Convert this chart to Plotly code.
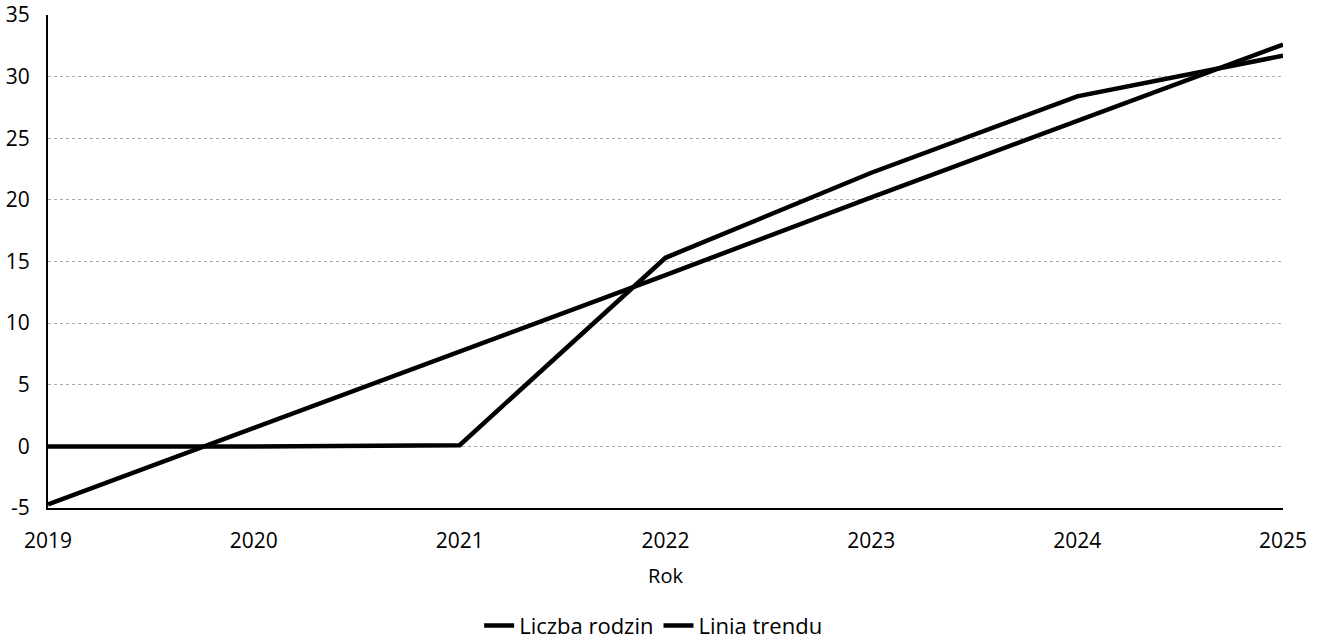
import plotly.graph_objects as go

years = [2019, 2020, 2021, 2022, 2023, 2024, 2025]
liczba_rodzin = [0, 0, 0.1, 15.3, 22.2, 28.4, 31.7]
linia_trendu = [-4.7, 1.5, 7.7, 13.9, 20.2, 26.4, 32.6]
y_ticks = [-5, 0, 5, 10, 15, 20, 25, 30, 35]

font = "Open Sans, Noto Sans, sans-serif"

fig = go.Figure()
fig.add_trace(go.Scatter(x=years, y=liczba_rodzin, mode="lines", name="Liczba rodzin",
                         line=dict(color="black", width=4.5)))
fig.add_trace(go.Scatter(x=years, y=linia_trendu, mode="lines", name="Linia trendu",
                         line=dict(color="black", width=4.5)))

fig.update_layout(
    width=1320, height=643,
    margin=dict(l=48, r=37, t=15, b=135, autoexpand=False),
    paper_bgcolor="white", plot_bgcolor="white",
    font=dict(family=font, color="black", size=21),
    showlegend=True,
    legend=dict(orientation="h", x=0.49, xanchor="center", y=-0.196, yanchor="top",
                font=dict(size=22), itemwidth=30, tracegroupgap=0),
)
fig.update_xaxes(
    range=[2019, 2025], tickvals=years, ticktext=[str(y) for y in years],
    showgrid=False, zeroline=False, showline=True, linecolor="black", linewidth=2,
    ticks="", ticklabelstandoff=13, automargin=False, ticklabeloverflow="allow",
    title=dict(text="Rok", font=dict(size=20), standoff=16),
)
fig.update_yaxes(
    range=[-5, 35], tickvals=y_ticks, ticktext=[str(v) for v in y_ticks],
    showgrid=True, gridcolor="#aaaaaa", griddash="dot", gridwidth=1,
    zeroline=False, showline=True, linecolor="black", linewidth=2,
    ticks="", ticklabelstandoff=12, automargin=False, ticklabeloverflow="allow",
)
fig.write_html("out.html", config={"displayModeBar": False},
               post_script="document.body.style.margin='0px';")
